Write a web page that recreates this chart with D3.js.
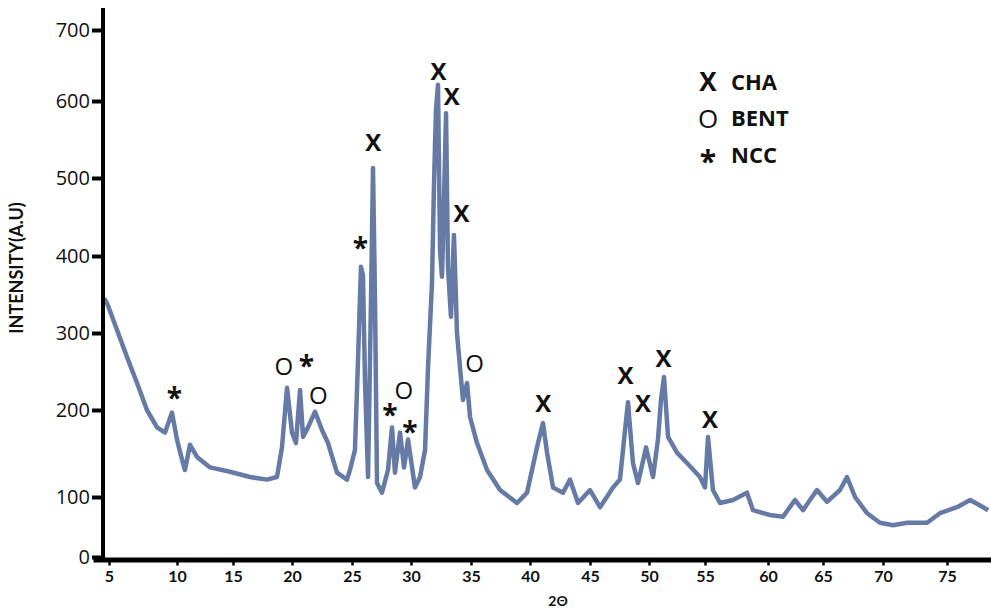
<!DOCTYPE html>
<html>
<head>
<meta charset="utf-8">
<script src="https://cdn.jsdelivr.net/npm/d3@7"></script>
<style>
  body { margin: 0; background: #fff; }
  svg { display: block; }
  text { font-family: Lato, "Open Sans", sans-serif; fill: #111; }
</style>
</head>
<body>
<div id="chart"></div>
<script>
// 2-theta (degrees) and intensity (a.u.)
const twoTheta = [4.63, 4.85, 5.59, 6.32, 7.06, 7.79, 8.53, 9.12, 9.63, 10.0, 10.45, 10.71, 11.16, 11.79, 12.95,
  14.73, 16.44, 17.88, 18.73, 19.15, 19.58, 20.0, 20.33, 20.67, 20.92, 21.33, 21.92, 22.5, 23.0, 23.75,
  24.58, 24.83, 25.25, 25.51, 25.76, 25.93, 26.1, 26.36, 26.61, 26.78, 26.95, 27.12, 27.54, 28.05, 28.39,
  28.64, 29.07, 29.41, 29.75, 30.33, 30.75, 31.17, 31.42, 31.75, 31.92, 32.08, 32.25, 32.42, 32.58, 32.75,
  32.92, 33.08, 33.33, 33.5, 33.58, 33.75, 33.83, 34.08, 34.33, 34.67, 34.92, 35.51, 36.36, 37.46, 38.9,
  39.75, 40.58, 41.08, 41.42, 41.92, 42.75, 43.33, 44.0, 45.0, 45.85, 46.95, 47.54, 47.97, 48.22, 48.64,
  49.07, 49.75, 50.36, 50.8, 51.07, 51.34, 51.7, 52.5, 53.39, 54.55, 55.0, 55.24, 55.63, 56.19, 57.22,
  58.33, 58.81, 60.18, 61.36, 62.45, 63.18, 64.45, 65.33, 66.42, 67.0, 67.67, 68.67, 69.75, 70.78, 71.88,
  73.44, 74.45, 75.78, 76.8, 77.81, 78.2];
const intensity = [345, 339, 304, 269, 235, 200, 180, 174, 197, 166, 143, 131, 160, 146, 134,
  129, 123, 120, 123, 157, 229, 174, 162, 226, 169, 180, 198, 177, 162, 128,
  120, 131, 154, 265, 386, 375, 238, 123, 343, 513, 343, 116, 105, 131, 180,
  128, 174, 134, 166, 111, 123, 154, 256, 365, 494, 588, 623, 408, 373, 472,
  584, 386, 321, 395, 427, 343, 300, 256, 213, 235, 192, 162, 131, 108, 90,
  105, 157, 185, 151, 111, 105, 120, 90, 108, 83, 111, 120, 177, 210, 139,
  116, 157, 123, 166, 213, 243, 169, 151, 139, 123, 111, 169, 108, 90, 95,
  105, 78, 70, 67, 95, 78, 108, 92, 108, 123, 100, 73, 57, 53, 57,
  57, 73, 83, 95, 83, 78];

// peak markers: symbol, 2-theta, height where the symbol sits
const markSymbol = ["*", "O", "*", "O", "*", "X", "*", "O", "*", "X", "X", "X", "O", "X", "X", "X", "X", "X"];
const markTheta  = [9.8, 19.3, 21.2, 22.2, 25.7, 26.8, 28.2, 29.4, 29.9, 32.3, 33.4, 34.2, 35.3, 41.1, 48.0, 49.5, 51.3, 55.4];
const markValue  = [222, 257, 264, 219, 417, 546, 200, 226, 181, 642, 607, 455, 261, 208, 245, 208, 267, 189];

const legendSymbol = ["X", "O", "*"];
const legendLabel = ["CHA", "BENT", "NCC"];

const xTicks = [5, 10, 15, 20, 25, 30, 35, 40, 45, 50, 55, 60, 65, 70, 75];
const yTicks = [0, 100, 200, 300, 400, 500, 600, 700];

const width = 991, height = 609;

const svg = d3.select("#chart").append("svg")
  .attr("width", width)
  .attr("height", height);

// the printed axes are not evenly spaced, so the scales are piecewise
const x = d3.scaleLinear()
  .domain([3.8].concat(xTicks, [78.5]))
  .range([93, 109, 177, 233, 292, 352, 411, 471, 530, 590, 649, 705, 768, 823, 883, 947, 992]);

const y = d3.scaleLinear()
  .domain(yTicks.concat([730]))
  .range([557, 497, 410, 333, 256, 178, 101, 30, 8]);

const data = twoTheta.map((t, i) => ({ t: t, v: intensity[i] }));

// trace
const line = d3.line()
  .x(d => x(d.t))
  .y(d => y(d.v));

svg.append("path")
  .datum(data)
  .attr("d", line)
  .attr("fill", "none")
  .attr("stroke", "#667aa6")
  .attr("stroke-width", 4.5)
  .attr("stroke-linejoin", "round");

// x axis
const xAxis = svg.append("g")
  .attr("transform", "translate(0,559.5)")
  .call(d3.axisBottom(x).tickValues(xTicks).tickSize(6).tickSizeOuter(0).tickPadding(5));
xAxis.select(".domain").attr("stroke", "#000").attr("stroke-width", 5);
xAxis.selectAll(".tick line").attr("stroke", "#000").attr("stroke-width", 2.5);
xAxis.selectAll(".tick text")
  .style("font-family", "Lato, sans-serif")
  .style("font-weight", "bold")
  .style("font-size", "16px")
  .attr("fill", "#111");

// y axis
const yAxis = svg.append("g")
  .attr("transform", "translate(103,0)")
  .call(d3.axisLeft(y).tickValues(yTicks).tickSize(11).tickSizeOuter(0).tickPadding(2));
yAxis.select(".domain").attr("stroke", "#000").attr("stroke-width", 4);
yAxis.selectAll(".tick line").attr("stroke", "#000").attr("stroke-width", 4);
yAxis.selectAll(".tick text")
  .style("font-family", "'Open Sans', sans-serif")
  .style("font-size", "20px")
  .attr("fill", "#111");
yAxis.select(".domain").attr("d", "M0,8V562");

// axis titles
svg.append("text")
  .attr("transform", "translate(23,268) rotate(-90)")
  .attr("text-anchor", "middle")
  .style("font-weight", "bold")
  .style("font-size", "18px")
  .text("INTENSITY(A.U)");

svg.append("text")
  .attr("x", 558)
  .attr("y", 606)
  .attr("text-anchor", "middle")
  .style("font-weight", "bold")
  .style("font-size", "14px")
  .text("2Θ");

// peak labels
function symbolStyle(sel) {
  sel.attr("text-anchor", "middle")
    .style("font-family", "'Open Sans', sans-serif")
    .style("font-weight", s => s === "O" ? "normal" : "bold")
    .style("font-size", s => s === "*" ? "28px" : "24px")
    .attr("dy", s => s === "*" ? "0.55em" : "0.36em");
}

svg.append("g")
  .selectAll("text")
  .data(markSymbol)
  .join("text")
  .attr("x", (s, i) => x(markTheta[i]))
  .attr("y", (s, i) => y(markValue[i]))
  .call(symbolStyle)
  .text(s => s);

// legend
const legend = svg.append("g").attr("transform", "translate(0,82)");
legend.selectAll("text.sym")
  .data(legendSymbol)
  .join("text")
  .attr("class", "sym")
  .attr("x", 708)
  .attr("y", (s, i) => i * 36.5)
  .call(symbolStyle)
  .style("font-size", s => s === "*" ? "30px" : "26px")
  .text(s => s);
legend.selectAll("text.lab")
  .data(legendLabel)
  .join("text")
  .attr("class", "lab")
  .attr("x", 731)
  .attr("y", (s, i) => i * 36.5)
  .attr("dy", "0.36em")
  .style("font-family", "'Open Sans', sans-serif")
  .style("font-weight", "bold")
  .style("font-size", "22px")
  .text(s => s);
</script>
</body>
</html>
